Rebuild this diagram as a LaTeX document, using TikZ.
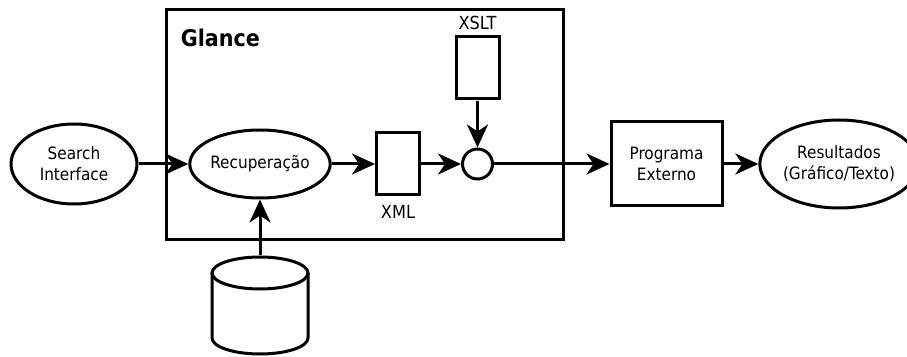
\documentclass[tikz,border=0pt]{standalone}
\usepackage{fontspec}
\setmainfont{DejaVu Sans Condensed}
\usetikzlibrary{arrows.meta,shapes.geometric,shapes.misc}

\begin{document}
\begin{tikzpicture}[x=1pt,y=1pt,->,>={Stealth[length=23pt,width=21pt,inset=7pt]},
  line width=3pt,
  oval/.style={ellipse,draw,inner sep=0pt,align=center,font=\fontsize{17}{21}\selectfont},
  box/.style={rectangle,draw,inner sep=0pt,align=center,font=\fontsize{17}{21}\selectfont},
  doc/.style={chamfered rectangle,chamfered rectangle corners=south east,
    chamfered rectangle sep=2pt,draw,minimum width=43pt,minimum height=62pt,inner sep=0pt},
  tag/.style={font=\fontsize{18}{20}\selectfont,inner sep=0pt}]

  \useasboundingbox (0,0) rectangle (907,356);

  \node[draw,minimum width=397pt,minimum height=230pt,inner sep=0pt] (frame) at (364.5,231) {};
  \node[font=\bfseries\fontsize{23}{27}\selectfont,anchor=west] (title) at (176,318) {Glance};

  \node[oval,minimum width=126pt,minimum height=80pt] (search) at (74,192) {Search\\Interface};
  \node[oval,minimum width=116pt,minimum height=68pt] (recup) at (260,192) {Recuperação};
  \node[doc] (xml) at (398,192) {};
  \node[tag] (xmltag) at (398,144) {XML};
  \node[doc] (xslt) at (477.5,288) {};
  \node[tag] (xslttag) at (477.5,333) {XSLT};
  \node[circle,draw,minimum size=30pt,inner sep=0pt] (join) at (477.5,192) {};
  \node[box,minimum width=111pt,minimum height=84pt] (prog) at (666.5,192) {Programa\\Externo};
  \node[oval,minimum width=132pt,minimum height=88pt] (res) at (839,192) {Resultados\\(Gráfico/Texto)};

  % database: an empty node holds the place, the cylinder is drawn round it
  \node[minimum width=96pt,minimum height=97pt,inner sep=0pt] (db) at (260,50.5) {};
  \draw[-] (260,83) ellipse [x radius=48,y radius=16];
  \draw[-] (212,83) -- (212,18) arc [start angle=180,end angle=360,x radius=48,y radius=16]
    -- (308,83);

  \path (search) edge (recup)
        (recup) edge (xml)
        (xml) edge (join)
        (xslt) edge (join)
        (join) edge (prog)
        (prog) edge (res)
        (db) edge (recup);
\end{tikzpicture}
\end{document}
